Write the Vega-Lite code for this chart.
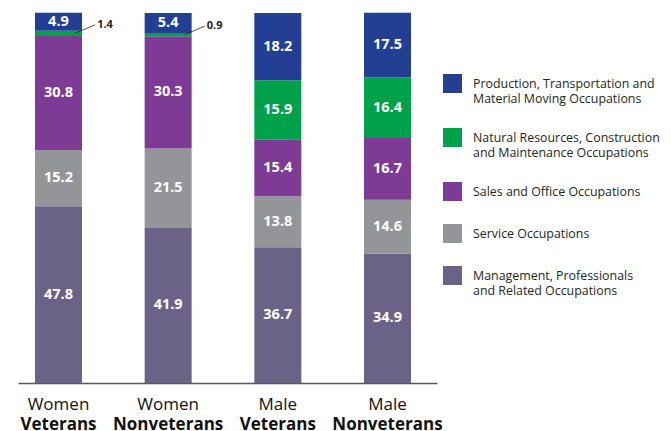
{
  "$schema": "https://vega.github.io/schema/vega-lite/v6.json",
  "autosize": "none",
  "width": 419,
  "height": 370,
  "padding": {"left": 18, "top": 13, "right": 234, "bottom": 48},
  "background": "white",
  "config": {"view": {"stroke": null}, "font": "Open Sans"},
  "data": {"values": [
    {"group": "Women|Veterans", "occupation": "Management, Professionals and Related Occupations", "rank": 1, "value": 47.8},
    {"group": "Women|Veterans", "occupation": "Service Occupations", "rank": 2, "value": 15.2},
    {"group": "Women|Veterans", "occupation": "Sales and Office Occupations", "rank": 3, "value": 30.8},
    {"group": "Women|Veterans", "occupation": "Natural Resources, Construction and Maintenance Occupations", "rank": 4, "value": 1.4},
    {"group": "Women|Veterans", "occupation": "Production, Transportation and Material Moving Occupations", "rank": 5, "value": 4.9},
    {"group": "Women|Nonveterans", "occupation": "Management, Professionals and Related Occupations", "rank": 1, "value": 41.9},
    {"group": "Women|Nonveterans", "occupation": "Service Occupations", "rank": 2, "value": 21.5},
    {"group": "Women|Nonveterans", "occupation": "Sales and Office Occupations", "rank": 3, "value": 30.3},
    {"group": "Women|Nonveterans", "occupation": "Natural Resources, Construction and Maintenance Occupations", "rank": 4, "value": 0.9},
    {"group": "Women|Nonveterans", "occupation": "Production, Transportation and Material Moving Occupations", "rank": 5, "value": 5.4},
    {"group": "Male|Veterans", "occupation": "Management, Professionals and Related Occupations", "rank": 1, "value": 36.7},
    {"group": "Male|Veterans", "occupation": "Service Occupations", "rank": 2, "value": 13.8},
    {"group": "Male|Veterans", "occupation": "Sales and Office Occupations", "rank": 3, "value": 15.4},
    {"group": "Male|Veterans", "occupation": "Natural Resources, Construction and Maintenance Occupations", "rank": 4, "value": 15.9},
    {"group": "Male|Veterans", "occupation": "Production, Transportation and Material Moving Occupations", "rank": 5, "value": 18.2},
    {"group": "Male|Nonveterans", "occupation": "Management, Professionals and Related Occupations", "rank": 1, "value": 34.9},
    {"group": "Male|Nonveterans", "occupation": "Service Occupations", "rank": 2, "value": 14.6},
    {"group": "Male|Nonveterans", "occupation": "Sales and Office Occupations", "rank": 3, "value": 16.7},
    {"group": "Male|Nonveterans", "occupation": "Natural Resources, Construction and Maintenance Occupations", "rank": 4, "value": 16.4},
    {"group": "Male|Nonveterans", "occupation": "Production, Transportation and Material Moving Occupations", "rank": 5, "value": 17.5}
  ]},
  "transform": [
    {"stack": "value", "groupby": ["group"], "sort": [{"field": "rank", "order": "ascending"}], "as": ["y0", "y1"]},
    {"calculate": "(datum.y0 + datum.y1) / 2", "as": "mid"},
    {"calculate": "datum.mid + 2.3", "as": "labY"}
  ],
  "resolve": {"axis": {"x": "independent"}},
  "layer": [
    {
      "mark": {"type": "bar"},
      "encoding": {
        "x": {
          "field": "group", "type": "nominal", "sort": null,
          "scale": {"paddingInner": 0.5714, "paddingOuter": 0.196, "align": 0.395},
          "axis": {
            "orient": "bottom", "title": null, "ticks": false,
            "domainColor": "#58595b", "domainWidth": 1.6,
            "labelAngle": 0, "labelFont": "Open Sans", "labelFontSize": 17, "labelColor": "#111111",
            "labelPadding": 13, "labelExpr": "split(datum.label, '|')[0]"
          }
        },
        "y": {"field": "y0", "type": "quantitative", "scale": {"domain": [0, 100]}, "axis": null},
        "y2": {"field": "y1"},
        "color": {
          "field": "occupation", "type": "nominal",
          "scale": {
            "domain": [
              "Production, Transportation and Material Moving Occupations",
              "Natural Resources, Construction and Maintenance Occupations",
              "Sales and Office Occupations",
              "Service Occupations",
              "Management, Professionals and Related Occupations"
            ],
            "range": ["#233f94", "#00a14b", "#7d3b96", "#939598", "#6b6387"]
          },
          "legend": {
            "orient": "none", "legendX": 425, "legendY": 61, "title": null,
            "symbolType": "square", "symbolSize": 361, "symbolStrokeWidth": 0,
            "labelFont": "Open Sans", "labelFontSize": 12.4, "labelColor": "#231f20",
            "labelOffset": 11, "labelLimit": 300, "rowPadding": 23,
            "encode": {"labels": {"update": {"lineHeight": {"value": 15}}}},
            "labelExpr": "datum.label == 'Production, Transportation and Material Moving Occupations' ? ['Production, Transportation and', 'Material Moving Occupations'] : datum.label == 'Natural Resources, Construction and Maintenance Occupations' ? ['Natural Resources, Construction', 'and Maintenance Occupations'] : datum.label == 'Management, Professionals and Related Occupations' ? ['Management, Professionals', 'and Related Occupations'] : datum.label"
          }
        }
      }
    },
    {
      "transform": [{"filter": "datum.value >= 2"}],
      "mark": {"type": "text", "color": "white", "fontWeight": "bold", "fontSize": 14.5, "font": "Open Sans", "baseline": "middle"},
      "encoding": {
        "x": {"field": "group", "type": "nominal", "sort": null, "axis": null},
        "y": {"field": "mid", "type": "quantitative"},
        "text": {"field": "value", "type": "quantitative", "format": ".1f"}
      }
    },
    {
      "transform": [{"filter": "datum.value < 2"}],
      "mark": {"type": "rule", "color": "#231f20", "strokeWidth": 0.8},
      "encoding": {
        "x": {"field": "group", "type": "nominal", "sort": null, "bandPosition": 0.85, "axis": null},
        "x2": {"field": "group", "bandPosition": 1.28},
        "y": {"field": "mid", "type": "quantitative"},
        "y2": {"field": "labY"}
      }
    },
    {
      "transform": [{"filter": "datum.value < 2"}],
      "mark": {"type": "text", "color": "#231f20", "fontWeight": "bold", "fontSize": 11, "font": "Open Sans", "align": "left", "baseline": "middle", "dx": 2},
      "encoding": {
        "x": {"field": "group", "type": "nominal", "sort": null, "bandPosition": 1.28, "axis": null},
        "y": {"field": "labY", "type": "quantitative"},
        "text": {"field": "value", "type": "quantitative", "format": ".1f"}
      }
    },
    {
      "mark": {"type": "text", "opacity": 0},
      "encoding": {
        "x": {
          "field": "group", "type": "nominal", "sort": null,
          "axis": {
            "orient": "bottom", "title": null, "ticks": false, "domain": false,
            "labelAngle": 0, "labelFont": "Open Sans", "labelFontSize": 17, "labelFontWeight": "bold", "labelColor": "#111111",
            "labelPadding": 33, "labelExpr": "split(datum.label, '|')[1]"
          }
        },
        "y": {"field": "mid", "type": "quantitative"},
        "text": {"value": ""}
      }
    }
  ]
}
